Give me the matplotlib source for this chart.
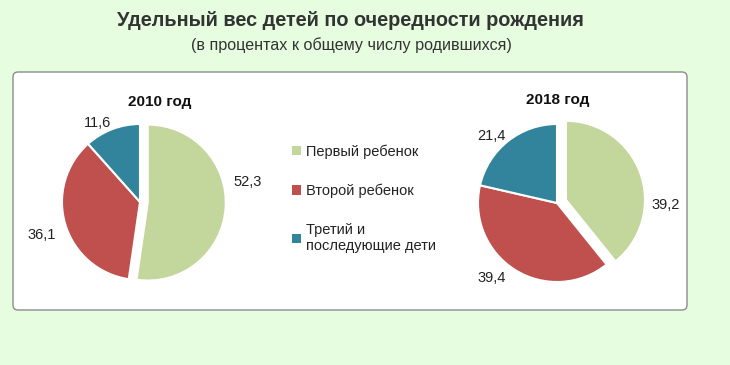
import numpy as np
import matplotlib
matplotlib.use('Agg')
import matplotlib.pyplot as plt
from matplotlib.patches import FancyBboxPatch, Patch

# data
categories = ['Первый ребенок', 'Второй ребенок', 'Третий и\nпоследующие дети']
years = ['2010 год', '2018 год']
shares_2010 = [52.3, 36.1, 11.6]
shares_2018 = [39.2, 39.4, 21.4]

colors = ['#c3d69b', '#c0504d', '#31849b']
bg = '#e6fde0'

W, H = 730, 365
plt.rcParams['font.family'] = ['Liberation Sans', 'DejaVu Sans']

fig = plt.figure(figsize=(W / 100, H / 100), dpi=100, facecolor=bg)

# background axes in pixel units
base = fig.add_axes([0, 0, 1, 1])
base.set_xlim(0, W)
base.set_ylim(H, 0)
base.axis('off')
base.add_patch(FancyBboxPatch((13, 72), 674, 238,
                              boxstyle='round,pad=0,rounding_size=5',
                              fc='white', ec='#8c8c8c', lw=1.0))

base.text(350, 21, 'Удельный вес детей по очередности рождения',
          weight='bold', fontsize=14.3, color='#333333', ha='center', va='center')
base.text(351, 45, '(в процентах к общему числу родившихся)',
          fontsize=11.6, color='#333333', ha='center', va='center')


def pie_at(cx, cy, r, values, title, title_xy, label_pos, explode):
    half = 100
    ax = fig.add_axes([(cx - half) / W, 1 - (cy + half) / H, 2 * half / W, 2 * half / H])
    lim = half / r
    ax.pie(values, colors=colors, startangle=90, counterclock=False,
           explode=explode, radius=1.0,
           wedgeprops=dict(edgecolor='white', linewidth=1.5))
    ax.set_xlim(-lim, lim)
    ax.set_ylim(-lim, lim)
    ax.set_aspect('equal')
    ax.axis('off')
    for v, (lx, ly) in zip(values, label_pos):
        base.text(cx + lx * r, cy - ly * r, f'{v:.1f}'.replace('.', ','),
                  fontsize=10.5, color='#222222', ha='center', va='center')
    base.text(title_xy[0], title_xy[1], title, fontsize=11, weight='bold',
              color='#111111', ha='center', va='center')


pie_at(140, 202, 78, shares_2010, years[0], (160, 102),
       [(1.38, 0.26), (-1.26, -0.42), (-0.55, 1.01)], [0.1, 0, 0])
pie_at(557, 203, 79, shares_2018, years[1], (558, 100),
       [(1.38, -0.03), (-0.83, -0.95), (-0.83, 0.85)], [0.12, 0, 0])

handles = [Patch(fc=c, ec='none') for c in colors]
fig.legend(handles, categories, loc='upper left',
           bbox_to_anchor=(279 / W, 1 - 131 / H), frameon=False,
           fontsize=10.5, handlelength=0.6, handleheight=0.6,
           handletextpad=0.35, labelspacing=1.72, labelcolor='#222222')

fig.savefig('out.png', dpi=100, facecolor=bg)
